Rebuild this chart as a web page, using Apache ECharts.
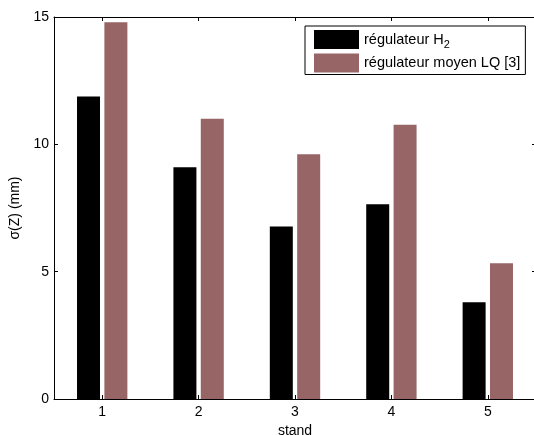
<!DOCTYPE html>
<html>
<head>
<meta charset="utf-8">
<script src="https://cdn.jsdelivr.net/npm/echarts@6/dist/echarts.min.js"></script>
<style>html,body{margin:0;padding:0;background:#fff;}#c{width:534px;height:435px;}</style>
</head>
<body>
<div id="c"></div>
<script>
const categories = ['1', '2', '3', '4', '5'];
const seriesNames = ['régulateur H2', 'régulateur moyen LQ [3]'];
const valuesH2 = [11.88, 9.10, 6.77, 7.65, 3.80];
const valuesLQ = [14.79, 11.00, 9.61, 10.77, 5.33];
const yTicks = { min: 0, max: 15, interval: 5 };

const FONT = 'Liberation Sans, Arial, Helvetica, sans-serif';
const chart = echarts.init(document.getElementById('c'), null, { renderer: 'canvas' });

const tickStyle = { show: true, inside: true, length: 4, lineStyle: { color: '#000', width: 1 } };
const lineStyle = { show: true, onZero: false, lineStyle: { color: '#000', width: 1 } };

chart.setOption({
  animation: false,
  backgroundColor: '#fff',
  grid: { left: 54, top: 17, right: -2, bottom: 36, containLabel: false, outerBoundsMode: 'none' },
  legend: {
    data: seriesNames,
    orient: 'vertical',
    left: 305,
    top: 26,
    itemWidth: 45,
    itemHeight: 19,
    itemGap: 3,
    padding: [4, 5, 2, 9],
    borderColor: '#000',
    borderWidth: 1,
    backgroundColor: '#fff',
    icon: 'rect',
    formatter: function (name) {
      if (name === seriesNames[0]) return '{t|régulateur H}{s|2}';
      return '{t|' + name + '}';
    },
    textStyle: {
      fontFamily: FONT,
      fontSize: 14.5,
      color: '#000',
      rich: {
        t: { fontFamily: FONT, fontSize: 14.5, color: '#000' },
        s: { fontFamily: FONT, fontSize: 11, color: '#000', padding: [11, 0, 0, 0] }
      }
    }
  },
  xAxis: [
    {
      type: 'category',
      data: categories,
      position: 'bottom',
      axisLine: lineStyle,
      axisTick: Object.assign({ alignWithLabel: true }, tickStyle),
      axisLabel: { fontFamily: FONT, fontSize: 14, color: '#000', margin: 6 },
      name: 'stand',
      nameLocation: 'middle',
      nameGap: 24,
      nameTextStyle: { fontFamily: FONT, fontSize: 14, color: '#000' },
      splitLine: { show: false }
    },
    {
      type: 'category',
      data: categories,
      position: 'top',
      axisLine: lineStyle,
      axisTick: Object.assign({ alignWithLabel: true }, tickStyle),
      axisLabel: { show: false },
      splitLine: { show: false }
    }
  ],
  yAxis: [
    {
      type: 'value',
      min: yTicks.min,
      max: yTicks.max,
      interval: yTicks.interval,
      position: 'left',
      axisLine: lineStyle,
      axisTick: tickStyle,
      axisLabel: { fontFamily: FONT, fontSize: 14, color: '#000', margin: 5 },
      splitLine: { show: false },
      name: 'σ(Z) (mm)',
      nameLocation: 'middle',
      nameGap: 25,
      nameTextStyle: { fontFamily: FONT, fontSize: 14, color: '#000' }
    },
    {
      type: 'value',
      min: yTicks.min,
      max: yTicks.max,
      interval: yTicks.interval,
      position: 'right',
      axisLine: lineStyle,
      axisTick: tickStyle,
      axisLabel: { show: false },
      splitLine: { show: false }
    }
  ],
  series: [
    {
      name: seriesNames[0],
      type: 'bar',
      data: valuesH2,
      barWidth: 23,
      barGap: '19%',
      itemStyle: { color: '#000000' }
    },
    {
      name: seriesNames[1],
      type: 'bar',
      data: valuesLQ,
      barWidth: 23,
      barGap: '19%',
      itemStyle: { color: '#976565' }
    }
  ]
});
</script>
</body>
</html>
